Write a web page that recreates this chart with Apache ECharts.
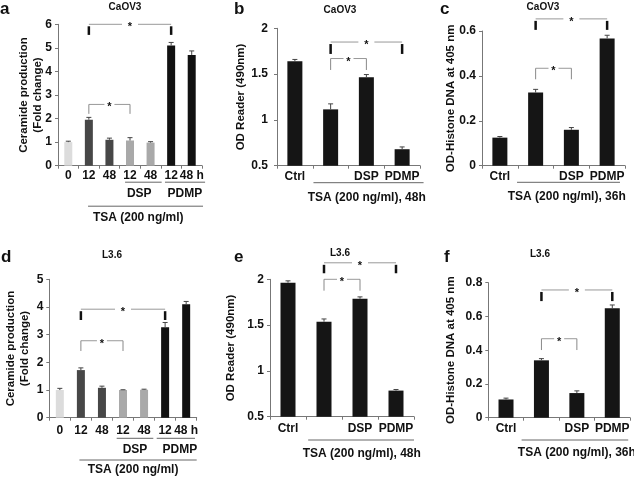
<!DOCTYPE html>
<html><head><meta charset="utf-8">
<script src="https://cdn.jsdelivr.net/npm/echarts@6/dist/echarts.min.js"></script>
<style>html,body{margin:0;padding:0;background:#fff}#c{width:634px;height:479px}</style>
</head><body><div id="c"></div>
<script>
// ---------- DATA ----------
const timeLabels = ['0', '12', '48', '12', '48', '12', '48 h'];
const treatLabels = ['Ctrl', '', 'DSP', 'PDMP'];
const timeColors = ['#dcdcdc', '#474747', '#474747', '#a9a9a9', '#a9a9a9', '#111111', '#111111'];
const treatColors = ['#151515', '#151515', '#151515', '#151515'];

const aVals = [1.0, 1.95, 1.1, 1.07, 0.98, 5.1, 4.7];
const aErr  = [0.04, 0.1, 0.07, 0.12, 0.04, 0.13, 0.17];
const bVals = [1.64, 1.115, 1.465, 0.68];
const bErr  = [0.02, 0.06, 0.03, 0.025];
const cVals = [0.125, 0.326, 0.16, 0.567];
const cErr  = [0.005, 0.014, 0.01, 0.014];
const dVals = [1.0, 1.72, 1.08, 1.0, 1.01, 3.27, 4.1];
const dErr  = [0.06, 0.08, 0.06, 0.01, 0.02, 0.17, 0.1];
const eVals = [1.963, 1.537, 1.788, 0.785];
const eErr  = [0.02, 0.03, 0.02, 0.012];
const fVals = [0.108, 0.34, 0.146, 0.648];
const fErr  = [0.008, 0.01, 0.013, 0.02];

// significance brackets: [fromIdx, toIdx, topValue, tickEndValue, boldTicks]
const aBr = [[1, 5, 6.0, 5.55, 1], [1, 3, 2.6, 2.2, 0]];
const bBr = [[1, 3, 1.85, 1.72, 1], [1, 2, 1.67, 1.545, 0]];
const cBr = [[1, 3, 0.654, 0.605, 1], [1, 2, 0.434, 0.385, 0]];
const dBr = [[1, 5, 3.92, 3.53, 1], [1, 3, 2.78, 2.41, 0]];
const eBr = [[1, 3, 2.18, 2.066, 1], [1, 2, 2.0, 1.876, 0]];
const fBr = [[1, 3, 0.757, 0.691, 1], [1, 2, 0.468, 0.401, 0]];

// ---------- LAYOUT ----------
const FONT = '"Liberation Sans", Arial, Helvetica, sans-serif';
const panels = [
  {letter:'a', letterPos:[0,1], title:'CaOV3', titlePos:[125,7.5],
   grid:{left:58, top:24.3, width:144, height:141.4}, cats:timeLabels, vals:aVals, errs:aErr, colors:timeColors,
   min:0, max:6, interval:1, barWidth:8, br:aBr, yName:'Ceramide production\n(Fold change)', nameGap:13, ylMargin:6, xlMargin:4,
   groups:[{t:'DSP', from:2.76, to:4.54, ly:16.5, at:3.45, ty:27.5},{t:'PDMP', from:4.7, to:6.65, ly:16.5, at:5.67, ty:27.5},{t:'TSA (200 ng/ml)', from:0.96, to:6.55, ly:40.5, at:3.4, ty:51.5}]},
  {letter:'b', letterPos:[234,1], title:'CaOV3', titlePos:[340,10],
   grid:{left:277, top:28.3, width:143, height:137.4}, cats:treatLabels, vals:bVals, errs:bErr, colors:treatColors,
   min:0.5, max:2, interval:0.5, barWidth:15, br:bBr, yName:'OD Reader (490nm)', nameGap:29, ylMargin:9, xlMargin:4.5,
   groups:[{t:'TSA (200 ng/ml), 48h', from:0.52, to:3.6, ly:17, at:2.01, ty:31.5}]},
  {letter:'c', letterPos:[440,1], title:'CaOV3', titlePos:[543,7.5],
   grid:{left:482, top:31, width:143, height:134.7}, cats:treatLabels, vals:cVals, errs:cErr, colors:treatColors,
   min:0, max:0.6, interval:0.2, barWidth:15, br:cBr, yName:'OD-Histone DNA at 405 nm', nameGap:24, ylMargin:6, xlMargin:4.5,
   groups:[{t:'TSA (200 ng/ml), 36h', from:0.48, to:3.36, ly:16.6, at:1.87, ty:31}]},
  {letter:'d', letterPos:[1,249], title:'L3.6', titlePos:[112,255],
   grid:{left:49.3, top:279.3, width:147.4, height:138.4}, cats:timeLabels, vals:dVals, errs:dErr, colors:timeColors,
   min:0, max:5, interval:1, barWidth:8, br:dBr, yName:'Ceramide production\n(Fold change)', nameGap:17, ylMargin:6, xlMargin:6.5,
   groups:[{t:'DSP', from:2.7, to:4.44, ly:20.6, at:3.57, ty:32.3},{t:'PDMP', from:4.6, to:6.42, ly:20.6, at:5.7, ty:32.3},{t:'TSA (200 ng/ml)', from:0.93, to:6.5, ly:42.3, at:3.48, ty:52.3}]},
  {letter:'e', letterPos:[234,249], title:'L3.6', titlePos:[340,253],
   grid:{left:270, top:279.3, width:144, height:137.4}, cats:treatLabels, vals:eVals, errs:eErr, colors:treatColors,
   min:0.5, max:2, interval:0.5, barWidth:15, br:eBr, yName:'OD Reader (490nm)', nameGap:32, ylMargin:6, xlMargin:6,
   groups:[{t:'TSA (200 ng/ml), 48h', from:0.56, to:3.5, ly:23.3, at:2.05, ty:36.6}]},
  {letter:'f', letterPos:[444,249], title:'L3.6', titlePos:[540,254],
   grid:{left:488.3, top:282.7, width:141.7, height:135}, cats:treatLabels, vals:fVals, errs:fErr, colors:treatColors,
   min:0, max:0.8, interval:0.2, barWidth:15, br:fBr, yName:'OD-Histone DNA at 405 nm', nameGap:30, ylMargin:6, xlMargin:5,
   groups:[{t:'TSA (200 ng/ml), 36h', from:0.44, to:3.45, ly:22.3, at:2.0, ty:34.6}]}
];

function errItem(params, api) {
  const x = api.value(0), v = api.value(1), e = api.value(2);
  const p0 = api.coord([x, v]), p1 = api.coord([x, v + e]);
  const cap = 2.5;
  return {type:'group', children:[
    {type:'line', shape:{x1:p0[0], y1:p0[1], x2:p1[0], y2:p1[1]}, style:{stroke:'#444', lineWidth:1}},
    {type:'line', shape:{x1:p1[0]-cap, y1:p1[1], x2:p1[0]+cap, y2:p1[1]}, style:{stroke:'#444', lineWidth:1}}
  ]};
}
function bracketItem(params, api) {
  const x1 = api.value(0), x2 = api.value(1), yt = api.value(2), yb = api.value(3), bold = api.value(4);
  const p1 = api.coord([x1, yt]), p2 = api.coord([x2, yt]), q = api.coord([x1, yb]);
  const mid = (p1[0] + p2[0]) / 2, gap = bold ? 8 : 5;
  const tick = bold ? {stroke:'#111', lineWidth:2.5} : {stroke:'#888', lineWidth:1};
  const tOff = bold ? 2 : 0;
  return {type:'group', children:[
    {type:'line', shape:{x1:p1[0], y1:p1[1], x2:mid-gap, y2:p1[1]}, style:{stroke:'#999', lineWidth:1}},
    {type:'line', shape:{x1:mid+gap, y1:p1[1], x2:p2[0], y2:p2[1]}, style:{stroke:'#999', lineWidth:1}},
    {type:'line', shape:{x1:p1[0], y1:p1[1]+tOff, x2:p1[0], y2:q[1]}, style:tick},
    {type:'line', shape:{x1:p2[0], y1:p2[1]+tOff, x2:p2[0], y2:q[1]}, style:tick},
    {type:'text', x:mid, y:p1[1]+3, style:{text:'*', fill:'#111', font:'bold 11px ' + FONT, textAlign:'center', textVerticalAlign:'middle'}}
  ]};
}

const grids = [], xAxes = [], yAxes = [], series = [];
panels.forEach((p, k) => {
  grids.push(p.grid);
  xAxes.push({type:'category', gridIndex:k, data:p.cats,
    axisLine:{lineStyle:{color:'#777', width:1}},
    axisTick:{show:true, length:3, alignWithLabel:false, lineStyle:{color:'#777'}},
    axisLabel:{color:'#111', fontFamily:FONT, fontWeight:'bold', fontSize:12, margin:p.xlMargin, interval:0},
    splitLine:{show:false}});
  yAxes.push({type:'value', gridIndex:k, min:p.min, max:p.max, interval:p.interval,
    name:p.yName, nameLocation:'middle', nameGap:p.nameGap, nameRotate:90, nameMoveOverlap:false,
    nameTextStyle:{color:'#111', fontFamily:FONT, fontWeight:'bold', fontSize:11.5, lineHeight:14},
    axisLine:{show:true, lineStyle:{color:'#777', width:1}},
    axisTick:{show:true, length:3, lineStyle:{color:'#777'}},
    axisLabel:{color:'#111', fontFamily:FONT, fontWeight:'bold', fontSize:12, margin:p.ylMargin},
    splitLine:{show:false}});
  series.push({type:'bar', xAxisIndex:k, yAxisIndex:k, barWidth:p.barWidth,
    data:p.vals.map((v, i) => ({value:v, itemStyle:{color:p.colors[i]}})), silent:true});
  series.push({type:'custom', xAxisIndex:k, yAxisIndex:k, renderItem:errItem, encode:{x:0, y:1},
    data:p.vals.map((v, i) => [i, v, p.errs[i]]), z:3, silent:true});
  series.push({type:'custom', xAxisIndex:k, yAxisIndex:k, renderItem:bracketItem, clip:false, encode:{x:[0,1], y:[2,3]},
    data:p.br, z:4, silent:true});
});

const chart = echarts.init(document.getElementById('c'), null, {renderer:'canvas'});
chart.setOption({animation:false, backgroundColor:'#fff', grid:grids, xAxis:xAxes, yAxis:yAxes, series:series});

// ---------- annotations positioned through the axes ----------
const graphics = [];
panels.forEach((p, k) => {
  const x0 = chart.convertToPixel({xAxisIndex:k}, 0);
  const x1 = chart.convertToPixel({xAxisIndex:k}, 1);
  const step = x1 - x0;
  const pos = i => x0 + i * step;
  const base = chart.convertToPixel({yAxisIndex:k}, p.min);
  p.groups.forEach(g => {
    graphics.push({type:'line', shape:{x1:pos(g.from), y1:base+g.ly, x2:pos(g.to), y2:base+g.ly}, style:{stroke:'#666', lineWidth:1}});
    graphics.push({type:'text', x:pos(g.at), y:base+g.ty, style:{text:g.t, fill:'#111', font:'bold 12px ' + FONT, textAlign:'center', textVerticalAlign:'middle'}});
  });
  graphics.push({type:'text', x:p.titlePos[0], y:p.titlePos[1], style:{text:p.title, fill:'#111', font:'bold 10px ' + FONT, textAlign:'center', textVerticalAlign:'middle'}});
  graphics.push({type:'text', x:p.letterPos[0], y:p.letterPos[1], style:{text:p.letter, fill:'#111', font:'bold 17px ' + FONT, textAlign:'left', textVerticalAlign:'top'}});
});
chart.setOption({graphic:graphics});
</script></body></html>
